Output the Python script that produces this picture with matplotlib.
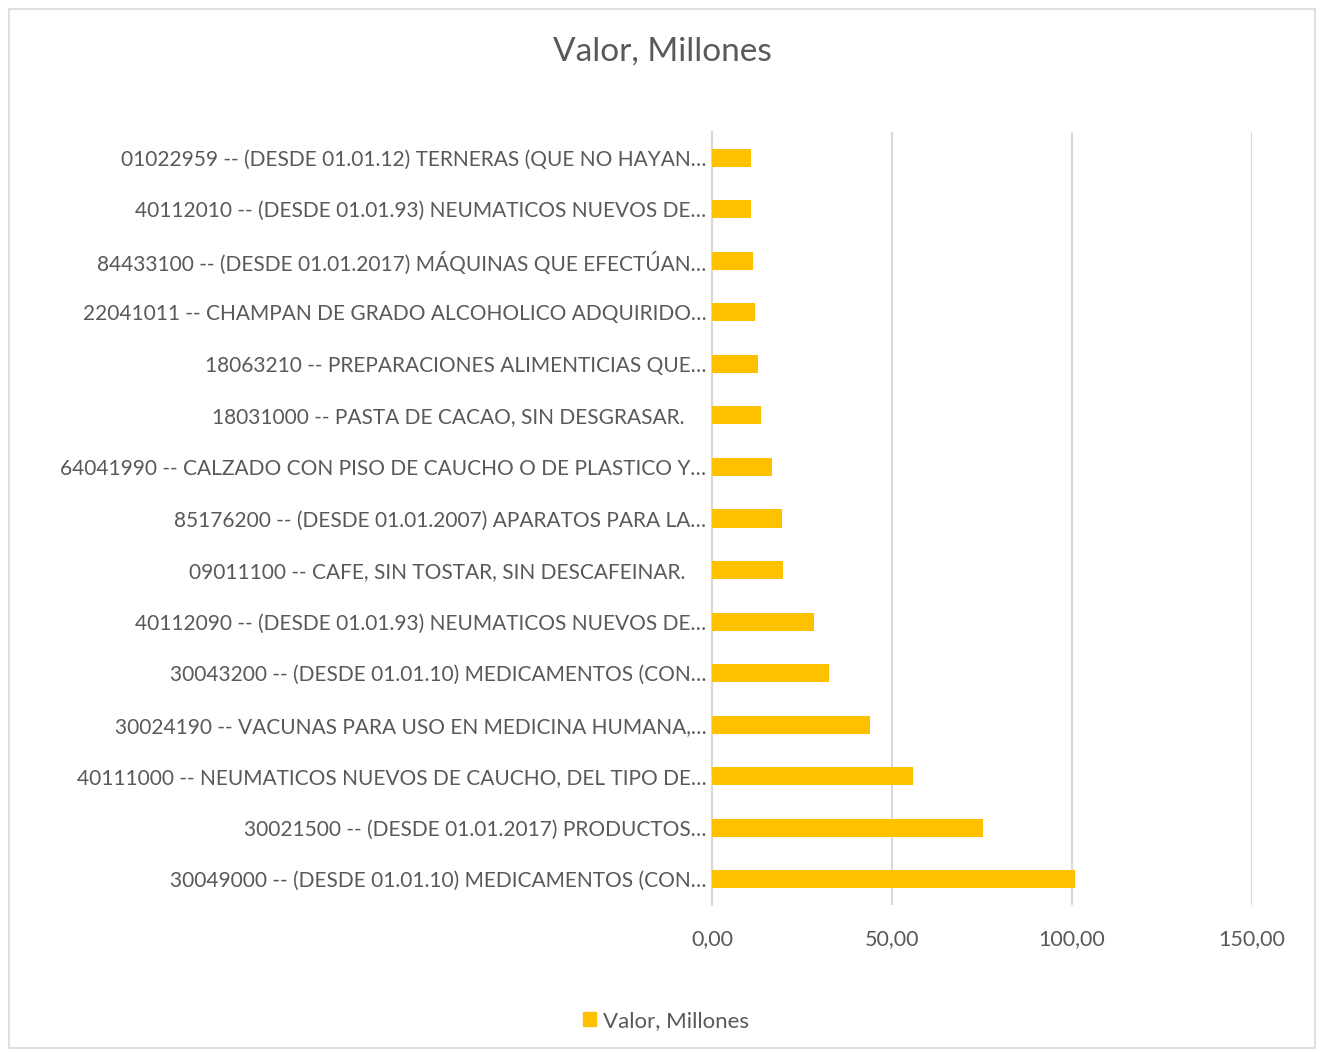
import matplotlib.pyplot as plt
from matplotlib.patches import Rectangle, Patch
from matplotlib.ticker import FuncFormatter

plt.rcParams['font.family'] = ['Lato', 'DejaVu Sans']

# Data (top to bottom as shown)
labels = [
    "01022959 -- (DESDE 01.01.12) TERNERAS (QUE NO HAYAN…",
    "40112010 -- (DESDE 01.01.93) NEUMATICOS NUEVOS DE…",
    "84433100 -- (DESDE 01.01.2017) MÁQUINAS QUE EFECTÚAN…",
    "22041011 -- CHAMPAN DE GRADO ALCOHOLICO ADQUIRIDO…",
    "18063210 -- PREPARACIONES ALIMENTICIAS QUE…",
    "18031000 -- PASTA DE CACAO, SIN DESGRASAR.    ",
    "64041990 -- CALZADO CON PISO DE CAUCHO O DE PLASTICO Y…",
    "85176200 -- (DESDE 01.01.2007) APARATOS PARA LA…",
    "09011100 -- CAFE, SIN TOSTAR, SIN DESCAFEINAR.    ",
    "40112090 -- (DESDE 01.01.93) NEUMATICOS NUEVOS DE…",
    "30043200 -- (DESDE 01.01.10) MEDICAMENTOS (CON…",
    "30024190 -- VACUNAS PARA USO EN MEDICINA HUMANA,…",
    "40111000 -- NEUMATICOS NUEVOS DE CAUCHO, DEL TIPO DE…",
    "30021500 -- (DESDE 01.01.2017) PRODUCTOS…",
    "30049000 -- (DESDE 01.01.10) MEDICAMENTOS (CON…",
]
values = [10.7, 10.7, 11.4, 12.0, 12.9, 13.5, 16.6, 19.4, 19.6,
          28.4, 32.5, 43.9, 55.9, 75.2, 100.7]
x_ticks = [0, 50, 100, 150]

text_color = "#595959"
bar_color = "#FFC000"
grid_color = "#D9D9D9"

fig = plt.figure(figsize=(13.21, 10.52), dpi=100)

# Outer chart border
fig.patches.append(Rectangle((9 / 1321, 4 / 1052), 1306 / 1321, 1039 / 1052,
                             transform=fig.transFigure, fill=False,
                             edgecolor=grid_color, linewidth=1.2))

ax = fig.add_axes([712 / 1321, 1 - 905 / 1052, 540 / 1321, 773 / 1052])

y = list(range(len(labels)))
ax.barh(y, values, height=0.35, color=bar_color, zorder=3)

ax.set_ylim(len(labels) - 0.5, -0.5)
ax.set_xlim(0, 150)
ax.set_yticks(y)
ax.set_yticklabels(labels)
ax.set_xticks(x_ticks)
ax.xaxis.set_major_formatter(FuncFormatter(lambda v, p: f"{v:.2f}".replace(".", ",")))

ax.grid(axis="x", color=grid_color, linewidth=1.5, zorder=0)
for s in ["top", "right", "bottom"]:
    ax.spines[s].set_visible(False)
ax.spines["left"].set_color(grid_color)
ax.spines["left"].set_linewidth(1.5)

ax.tick_params(axis="y", length=0, pad=4, labelsize=15, labelcolor=text_color)
ax.tick_params(axis="x", length=0, pad=17, labelsize=15.5, labelcolor=text_color)

fig.text(662 / 1321, 1 - 52 / 1052, "Valor, Millones", ha="center", va="center",
         fontsize=24, color=text_color)

handle = Patch(facecolor=bar_color, edgecolor=bar_color)
fig.legend([handle], ["Valor, Millones"], loc="center",
           bbox_to_anchor=(666 / 1321, 1 - 1021 / 1052), frameon=False,
           fontsize=16, labelcolor=text_color, handlelength=0.6,
           handleheight=0.6, handletextpad=0.3)

fig.savefig("out.png", dpi=100)
plt.close(fig)
